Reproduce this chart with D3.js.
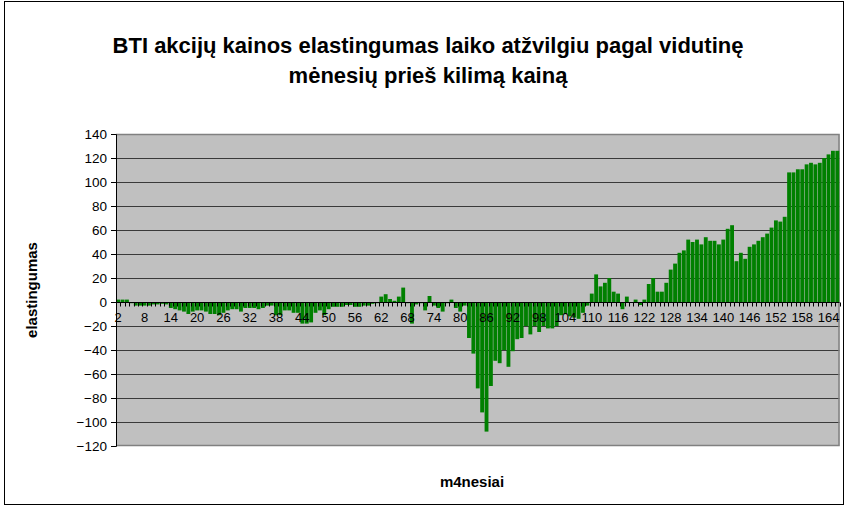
<!DOCTYPE html>
<html>
<head>
<meta charset="utf-8">
<script src="https://cdn.jsdelivr.net/npm/d3@7"></script>
<style>
  html, body { margin: 0; padding: 0; background: #fff; }
  svg { display: block; font-family: "Liberation Sans", Arial, sans-serif; }
</style>
</head>
<body>
<svg id="chart" width="845" height="508"></svg>
<script>
// Elasticity values per month, starting at month 2
const firstMonth = 2;
const values = [
  2, 2, 2, -1, -3, -3, -3, -3, -2, -2,
  -1.5, -2, -5, -6, -7, -8, -10, -8, -7, -7,
  -8, -10, -10, -11, -9, -7, -6, -6, -8, -5,
  -5, -5, -6, -5, -3, -3, -11, -11, -7, -7,
  -9, -9, -18, -18, -17, -9, -7, -11, -6, -4,
  -4, -4, -2.5, -2.5, -4, -4, -3, -3, -1.5, -1,
  4.5, 6.5, 2.5, 1, 4.5, 12, -1, -18, -2, -1,
  -7, 5, -3, -5, -8, -1, 2, -5, -8, -3,
  -30, -43, -72, -92, -108, -70, -49, -51, -40, -54,
  -41, -31, -30, -20, -27, -20, -25, -20, -22, -22,
  -20, -11, -10, -12, -13, -14, -9, -3, 7, 23,
  13, 16, 20, 8.6, 7, -6, 4.5, -0.5, 2, -2.5,
  2, 15, 20, 8.6, 8.6, 16, 27, 32, 41, 43,
  52, 50, 52, 48, 54, 51, 51, 48, 52, 61,
  64, 34, 41, 36, 46, 48, 51, 54, 57, 62,
  68, 67, 71, 108, 108, 110.6, 110.6, 114.7, 116, 114.7,
  116, 120, 123, 126, 126
];
const months = values.map((v, i) => firstMonth + i);
const yTicks = [-120, -100, -80, -60, -40, -20, 0, 20, 40, 60, 80, 100, 120, 140];
const labelEvery = 6;

const titleLines = ["BTI akcijų kainos elastingumas laiko atžvilgiu pagal vidutinę", "mėnesių prieš kilimą kainą"];
const yTitle = "elastingumas";
const xTitle = "m4nesiai";

const W = 845, H = 508;
const plot = { left: 116, top: 134, right: 839.5, bottom: 446 };

const svg = d3.select("#chart");

// chart frame
svg.append("rect")
  .attr("x", 4.5).attr("y", 1.5)
  .attr("width", 839).attr("height", 503)
  .attr("fill", "#fff").attr("stroke", "#000").attr("stroke-width", 1);

const x = d3.scaleBand().domain(months).range([plot.left, plot.right]).paddingInner(0.12).paddingOuter(0.06);
const y = d3.scaleLinear().domain([-120, 140]).range([plot.bottom, plot.top]);

// plot area
svg.append("rect")
  .attr("x", plot.left).attr("y", plot.top)
  .attr("width", plot.right - plot.left).attr("height", plot.bottom - plot.top)
  .attr("fill", "#c0c0c0");

// gridlines
svg.append("g").selectAll("line")
  .data(yTicks.filter(t => t !== 0 && t !== 140 && t !== -120))
  .join("line")
  .attr("x1", plot.left).attr("x2", plot.right)
  .attr("y1", d => Math.round(y(d)) + 0.5).attr("y2", d => Math.round(y(d)) + 0.5)
  .attr("stroke", "#3a3a3a").attr("stroke-width", 1);

// plot border (top, right, bottom)
svg.append("path")
  .attr("d", `M${plot.left},${plot.top + 0.5}H${plot.right - 0.5}V${plot.bottom - 0.5}H${plot.left}`)
  .attr("fill", "none").attr("stroke", "#808080").attr("stroke-width", 1.5);

// bars
svg.append("g").selectAll("rect")
  .data(values.map((v, i) => ({ m: months[i], v })))
  .join("rect")
  .attr("x", d => x(d.m))
  .attr("width", x.bandwidth())
  .attr("y", d => y(Math.max(0, d.v)))
  .attr("height", d => Math.abs(y(d.v) - y(0)))
  .attr("fill", "#008000");

// y axis
const yAxis = svg.append("g")
  .attr("transform", `translate(${plot.left},0)`)
  .call(d3.axisLeft(y).tickValues(yTicks).tickSize(5).tickPadding(4).tickFormat(d3.format("d")));
yAxis.select(".domain").attr("stroke", "#000");
yAxis.selectAll(".tick line").attr("stroke", "#000");
yAxis.selectAll("text").attr("font-size", 13.5).attr("fill", "#000")
  .attr("font-family", "'Liberation Sans', Arial, sans-serif");

// x axis along zero line
const step = x.step();
const zeroY = Math.round(y(0)) + 0.5;
svg.append("line")
  .attr("x1", plot.left).attr("x2", plot.right)
  .attr("y1", zeroY).attr("y2", zeroY)
  .attr("stroke", "#000").attr("stroke-width", 1);
svg.append("g").selectAll("line")
  .data(months.concat([months[months.length - 1] + 1]))
  .join("line")
  .attr("x1", (d, i) => Math.round(plot.left + i * step) + 0.5)
  .attr("x2", (d, i) => Math.round(plot.left + i * step) + 0.5)
  .attr("y1", zeroY).attr("y2", zeroY + 4)
  .attr("stroke", "#000").attr("stroke-width", 1);

const xAxis = svg.append("g")
  .attr("transform", `translate(0,${zeroY})`)
  .call(d3.axisBottom(x).tickValues(months.filter((m, i) => i % labelEvery === 0)).tickSize(0).tickPadding(10));
xAxis.select(".domain").remove();
xAxis.selectAll("text").attr("font-size", 13).attr("fill", "#000")
  .attr("font-family", "'Liberation Sans', Arial, sans-serif");

// titles
const title = svg.append("text")
  .attr("x", 428).attr("y", 53)
  .attr("text-anchor", "middle")
  .attr("font-size", 22).attr("font-weight", "bold").attr("fill", "#000");
title.selectAll("tspan").data(titleLines).join("tspan")
  .attr("x", 428).attr("dy", (d, i) => i === 0 ? 0 : 30)
  .text(d => d);

svg.append("text")
  .attr("transform", `translate(37,${(plot.top + plot.bottom) / 2}) rotate(-90)`)
  .attr("text-anchor", "middle")
  .attr("font-size", 15).attr("font-weight", "bold")
  .text(yTitle);

svg.append("text")
  .attr("x", 472).attr("y", 487)
  .attr("text-anchor", "middle")
  .attr("font-size", 15).attr("font-weight", "bold")
  .text(xTitle);
</script>
</body>
</html>
